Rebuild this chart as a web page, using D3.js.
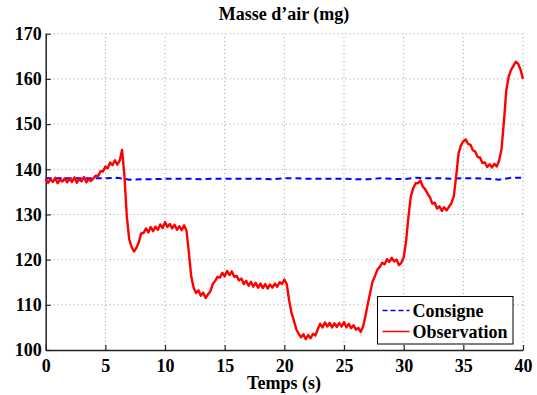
<!DOCTYPE html>
<html>
<head>
<meta charset="utf-8">
<script src="https://cdn.jsdelivr.net/npm/d3@7/dist/d3.min.js"></script>
<style>
body { margin: 0; background: #fff; }
svg text { font-family: "Liberation Serif", "Times New Roman", serif; font-weight: bold; font-size: 18px; fill: #000; }
</style>
</head>
<body>
<div id="chart"></div>
<script>
// tick values
const xTicks = [0, 5, 10, 15, 20, 25, 30, 35, 40];
const yTicks = [100, 110, 120, 130, 140, 150, 160, 170];

// Consigne, one value per second (0..40 s)
const consigneT = d3.range(0, 41, 1);
const consigne = [138.0,138.0,138.0,138.0,138.0,138.0,138.1,137.7,137.8,137.8,
                  137.9,137.9,137.9,137.8,137.9,137.9,137.9,137.9,137.9,137.8,
                  138.0,138.0,137.9,137.9,137.9,137.9,137.8,137.8,138.0,137.9,
                  137.8,138.1,138.0,138.0,137.9,138.0,138.0,137.9,137.7,138.1,138.1];

// Observation, one value every 0.2 s (0..40 s)
const observationT = d3.range(0, 201).map(i => i / 5);
const observation = [
  137.9,137.0,137.8,137.2,138.1,136.9,137.7,137.3,138.0,137.1, // 0-2
  137.9,137.2,138.2,137.0,137.8,137.3,138.3,137.1,137.9,137.4, // 2-4
  138.0,138.6,138.5,139.6,139.5,140.6,140.2,141.5,140.9,142.0, // 4-6
  141.0,141.9,144.3,138.5,129.5,124.5,122.8,121.8,122.6,123.8, // 6-8
  125.8,125.9,126.9,126.0,127.2,126.3,127.3,126.6,127.8,127.0, // 8-10
  128.3,127.2,127.9,126.9,127.7,126.6,127.4,126.5,127.6,126.4, // 10-12
  121.5,116.2,113.8,112.6,113.2,112.0,112.7,111.5,112.3,113.0, // 12-14
  114.6,115.3,116.2,116.0,117.1,116.3,117.5,116.6,117.4,116.2, // 14-16
  116.4,115.4,115.8,114.6,115.3,114.2,115.1,114.0,114.9,113.8, // 16-18
  114.7,113.7,114.6,113.6,114.5,113.8,114.7,114.0,115.0,114.6, // 18-20
  115.6,114.6,111.0,108.2,106.5,104.6,103.6,102.8,103.5,102.4, // 20-22
  103.3,102.6,103.6,103.2,104.6,105.8,105.0,106.1,105.2,106.0, // 22-24
  105.0,105.9,105.1,106.0,105.2,106.2,105.0,105.8,104.8,105.5, // 24-26
  104.5,104.9,104.0,105.2,107.6,110.3,112.8,115.2,116.4,117.8, // 26-28
  118.4,119.3,119.0,120.1,119.5,120.4,119.6,120.0,118.8,119.3, // 28-30
  120.5,124.0,129.5,134.0,135.8,136.9,136.9,137.5,136.2,135.6, // 30-32
  134.6,133.8,132.4,132.6,131.3,131.8,130.8,131.6,130.9,131.7, // 32-34
  132.5,134.0,138.5,143.5,145.3,146.2,146.6,145.6,145.4,144.2, // 34-36
  143.9,142.7,142.6,141.4,141.5,140.5,141.1,140.4,141.2,140.6, // 36-38
  141.9,144.5,150.5,157.5,160.5,162.0,162.9,163.8,163.3,162.0, // 38-40
  160.0
];

const seriesNames = ["Consigne", "Observation"];
const seriesColors = ["#0000ff", "#ff0000"];

var w = 537, h = 395;
var svg = d3.select("#chart").append("svg")
    .attr("width", w)
    .attr("height", h);

var xScale = d3.scaleLinear().domain([0, 40]).range([45.7, 523]);
var yScale = d3.scaleLinear().domain([100, 170]).range([350, 33.7]);

// grid
svg.selectAll(".gx").data(xTicks.slice(1)).enter().append("line")
    .attr("x1", d => xScale(d)).attr("x2", d => xScale(d))
    .attr("y1", yScale(100)).attr("y2", yScale(170))
    .attr("stroke", "#9a9a9a").attr("stroke-width", 1).attr("stroke-dasharray", "1,3");
svg.selectAll(".gy").data(yTicks.slice(1)).enter().append("line")
    .attr("x1", xScale(0)).attr("x2", xScale(40))
    .attr("y1", d => yScale(d)).attr("y2", d => yScale(d))
    .attr("stroke", "#9a9a9a").attr("stroke-width", 1).attr("stroke-dasharray", "1,3");

// axes
var xAxis = d3.axisBottom(xScale).tickValues(xTicks).tickSizeInner(-5).tickSizeOuter(0).tickPadding(9);
var yAxis = d3.axisLeft(yScale).tickValues(yTicks).tickSizeInner(-5).tickSizeOuter(0).tickPadding(4);

var gx = svg.append("g").attr("transform", `translate(0,${yScale(100)})`).call(xAxis);
var gy = svg.append("g").attr("transform", `translate(${xScale(0)},0)`).call(yAxis);
[gx, gy].forEach(g => {
    g.select(".domain").attr("stroke", "#222").attr("stroke-width", 1.5);
    g.selectAll(".tick line").attr("stroke", "#222").attr("stroke-width", 1.2);
    g.selectAll("text").attr("font-size", 18).attr("font-family", null).attr("fill", "#000");
});
gx.selectAll("text").attr("dy", "0.71em");

// lines
var line = d3.line().x(d => xScale(d[0])).y(d => yScale(d[1]));

svg.append("path")
    .datum(consigneT.map((t, i) => [t, consigne[i]]))
    .attr("d", line)
    .attr("fill", "none")
    .attr("stroke", seriesColors[0])
    .attr("stroke-width", 2)
    .attr("stroke-dasharray", "6,4");

svg.append("path")
    .datum(observationT.map((t, i) => [t, observation[i]]))
    .attr("d", line)
    .attr("fill", "none")
    .attr("stroke", seriesColors[1])
    .attr("stroke-width", 2.4)
    .attr("stroke-linejoin", "round");

// title + axis label
svg.append("text").attr("x", 284).attr("y", 20).attr("text-anchor", "middle").text("Masse d\u2019air (mg)");
svg.append("text").attr("x", 284).attr("y", 389).attr("text-anchor", "middle").text("Temps (s)");

// legend
var lg = svg.append("g").attr("transform", "translate(377.5,296.5)");
lg.append("rect").attr("width", 135.5).attr("height", 47.5)
    .attr("fill", "#fff").attr("stroke", "#000").attr("stroke-width", 1);
seriesNames.forEach((name, i) => {
    var yy = 14 + i * 21;
    lg.append("line").attr("x1", 5).attr("x2", 32).attr("y1", yy).attr("y2", yy)
        .attr("stroke", seriesColors[i]).attr("stroke-width", 1.5)
        .attr("stroke-dasharray", i == 0 ? "5,3" : null);
    lg.append("text").attr("x", 35).attr("y", yy + 6).text(name);
});
</script>
</body>
</html>
